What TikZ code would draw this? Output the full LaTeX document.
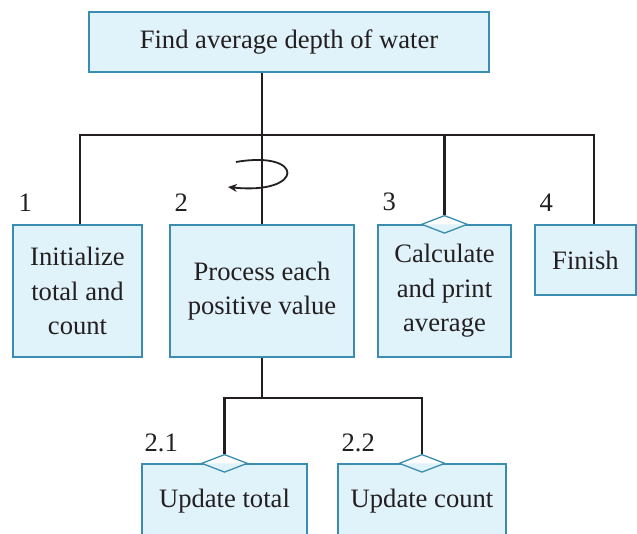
\documentclass[tikz,border=0pt]{standalone}
\usepackage{fontspec}
\setmainfont{Liberation Serif}
\usetikzlibrary{shapes.geometric,arrows.meta,calc}
\definecolor{boxfill}{HTML}{E0F2FA}
\definecolor{boxedge}{HTML}{3A8DB0}
\definecolor{ink}{HTML}{231F20}

\begin{document}
\begin{tikzpicture}[x=1pt,y=-1pt,
  module/.style={draw=boxedge,fill=boxfill,line width=1.3pt,align=center,
    inner sep=0pt,font=\fontsize{26.6}{34.5}\selectfont,text=ink},
  conn/.style={draw=ink,line width=2.8pt,line join=miter},
  lbl/.style={anchor=south west,inner sep=0pt,font=\fontsize{26.6}{26.6}\selectfont,text=ink},
  flag/.style={diamond,draw=boxedge,line width=1.3pt,aspect=2.5,
    minimum width=46pt,minimum height=18pt,inner sep=0pt,fill=boxfill,
    path picture={\fill[white] (path picture bounding box.west) --
      (path picture bounding box.north) -- (path picture bounding box.east) -- cycle;}}]
\useasboundingbox (0,0) rectangle (637,534);

% modules
\node[module,minimum width=400pt,minimum height=60pt] (top) at (289,42) {Find average depth of water};
\node[module,minimum width=129pt,minimum height=132pt] (b1) at (77.5,291) {Initialize\\total and\\count};
\node[module,minimum width=184pt,minimum height=132pt] (b2) at (262,291) {Process each\\positive value};
\node[module,minimum width=133pt,minimum height=132pt] (b3) at (444.5,291) {Calculate\\and print\\average};
\node[module,minimum width=101pt,minimum height=70pt] (b4) at (585.5,260) {Finish};
\node[module,minimum width=165pt,minimum height=74pt] (u1) at (224.5,501) {Update total};
\node[module,minimum width=168pt,minimum height=74pt] (u2) at (422,501) {Update count};

% data-flag diamonds
\node[flag] (d3) at (b3.north) {};
\node[flag] (d21) at (u1.north) {};
\node[flag] (d22) at (u2.north) {};

% step numbers
\node[lbl] (n1) at ($(b1.north west)+(6,-13)$) {1};
\node[lbl] (n2) at ($(b2.north west)+(5,-13)$) {2};
\node[lbl] (n3) at ($(b3.north west)+(5,-13)$) {3};
\node[lbl] (n4) at ($(b4.north west)+(5,-13)$) {4};
\node[lbl] (n21) at ($(u1.north west)+(3,-11)$) {2.1};
\node[lbl] (n22) at ($(u2.north west)+(4,-11)$) {2.2};

% upper tree
\coordinate (j0) at (262,135);
\coordinate (jL) at (80,135);
\coordinate (jR) at (594,135);
\draw[conn] (top.south -| j0) -- (j0);
\draw[conn] (jL |- b1.north) -- (jL) -- (jR) -- (jR |- b4.north);
\draw[conn] (j0) -- (b2.north);
\draw[conn] (j0 -| d3) -- (d3.north);

% lower tree
\coordinate (k0) at (262,398);
\draw[conn] (b2.south) -- (k0);
\draw[conn] (d21.north) -- (k0 -| d21) -- (k0 -| d22) -- (d22.north);

% repetition loop
\draw[ink,line width=1.8pt,-{Stealth[length=9pt,width=8pt]}]
  (236,162) .. controls (305,150) and (305,195) .. (228,187);
\end{tikzpicture}
\end{document}
